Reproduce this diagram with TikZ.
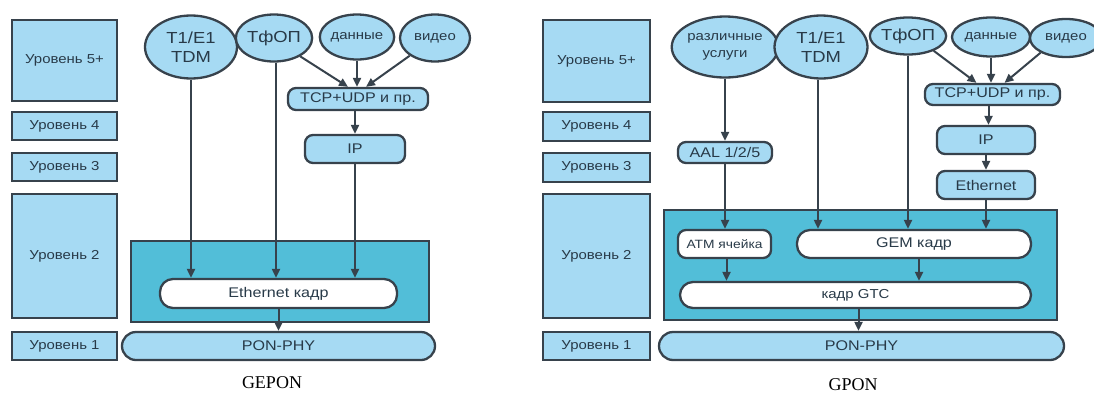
\documentclass[tikz,border=0pt]{standalone}
\usepackage{fontspec}
\usepackage{graphicx}
\setmainfont{Liberation Sans}
\newfontfamily\capfont{Liberation Serif}
\usetikzlibrary{arrows.meta,shapes.geometric}
\definecolor{lblue}{RGB}{166,218,243}
\definecolor{teal2}{RGB}{82,190,216}
\definecolor{edge}{RGB}{55,66,76}
\definecolor{txt}{RGB}{40,58,72}
\newcommand{\hs}[1]{\scalebox{1.15}[1]{#1}}
\tikzset{
  base/.style={draw=edge,line width=2.3pt,text=txt,inner sep=0pt,align=center},
  lvl/.style={base,rectangle,fill=lblue,minimum width=#1,font=\fontsize{13}{15}\selectfont},
  ell/.style={base,ellipse,fill=lblue},
  rbox/.style={base,rectangle,rounded corners=8pt,fill=lblue,font=\fontsize{14}{16}\selectfont},
  wbox/.style={base,rectangle,rounded corners=13pt,fill=white,font=\fontsize{14}{16}\selectfont},
  pill/.style={base,rectangle,rounded corners=14pt,fill=lblue,font=\fontsize{14}{16}\selectfont},
  tealbox/.style={draw=edge,line width=2.3pt,fill=teal2,rectangle,inner sep=0pt},
  conn/.style={draw=edge,line width=2pt},
  arr/.style={conn,-{Triangle[length=9pt,width=8pt]}},
  captext/.style={font=\capfont\fontsize{18}{20}\selectfont,text=black}
}
\begin{document}
\begin{tikzpicture}[x=1pt,y=-1pt]
\useasboundingbox (0,0) rectangle (1094,394);
% ---------------- GEPON ----------------
\node[lvl=105pt,minimum height=81pt] (l5) at (64.5,60.5) {\hs{Уровень 5+}};
\node[lvl=105pt,minimum height=28pt] (l4) at (64.5,126) {\hs{Уровень 4}};
\node[lvl=105pt,minimum height=28pt] (l3) at (64.5,167) {\hs{Уровень 3}};
\node[lvl=105pt,minimum height=124pt] (l2) at (64.5,256) {\hs{Уровень 2}};
\node[lvl=105pt,minimum height=28pt] (l1) at (64.5,346) {\hs{Уровень 1}};

\node[ell,minimum width=92pt,minimum height=63pt,font=\fontsize{16}{19}\selectfont] (t1) at (191,47) {\hs{T1/E1}\\\hs{TDM}};
\node[ell,minimum width=72pt,minimum height=47pt,font=\fontsize{16}{18}\selectfont] (tf) at (274,38) {\hs{ТфОП}};
\node[ell,minimum width=73pt,minimum height=45pt,font=\fontsize{13}{15}\selectfont] (dat) at (357,37) {\hs{данные}};
\node[ell,minimum width=70pt,minimum height=47pt,font=\fontsize{13}{15}\selectfont] (vid) at (435,38) {\hs{видео}};
\node[rbox,minimum width=140pt,minimum height=22pt] (tcp) at (358,99) {\hs{TCP+UDP и пр.}};
\node[rbox,minimum width=100pt,minimum height=28pt] (ip) at (355,149) {\hs{IP}};
\node[tealbox,minimum width=298pt,minimum height=81pt] (teal) at (280,281.5) {};
\node[wbox,minimum width=237pt,minimum height=29pt] (eth) at (278.5,293.5) {\hs{Ethernet кадр}};
\node[pill,minimum width=313pt,minimum height=28pt] (pon) at (278.5,346) {\hs{PON-PHY}};
\node[captext] (capa) at (272,383) {GEPON};

\draw[arr] (t1.south) -- (t1.south |- eth.north);
\draw[arr] ([xshift=2pt]tf.south) -- ([xshift=2pt]tf.south |- eth.north);
\draw[arr] (ip.south) -- (ip.south |- eth.north);
\draw[arr] (dat.south) -- (dat.south |- tcp.north);
\draw[arr] (tf.-35) -- ([xshift=-10pt]tcp.north);
\draw[arr] (vid.-145) -- ([xshift=8pt]tcp.north);
\draw[arr] ([xshift=-3pt]tcp.south) -- ([xshift=-3pt]tcp.south |- ip.north);
\draw[arr] (eth.south) -- (eth.south |- pon.north);

% ---------------- GPON ----------------
\node[lvl=107pt,minimum height=82pt] (r5) at (596.5,61) {\hs{Уровень 5+}};
\node[lvl=107pt,minimum height=29pt] (r4) at (596.5,126.5) {\hs{Уровень 4}};
\node[lvl=107pt,minimum height=29pt] (r3) at (596.5,167.5) {\hs{Уровень 3}};
\node[lvl=107pt,minimum height=124pt] (r2) at (596.5,256) {\hs{Уровень 2}};
\node[lvl=107pt,minimum height=28pt] (r1) at (596.5,346) {\hs{Уровень 1}};

\node[ell,minimum width=94pt,minimum height=61pt,font=\fontsize{13}{17}\selectfont] (rs) at (725,47) {\hs{различные}\\\hs{услуги}};
\node[ell,minimum width=93pt,minimum height=63pt,font=\fontsize{16}{19}\selectfont] (t1r) at (821,47) {\hs{T1/E1}\\\hs{TDM}};
\node[ell,minimum width=70pt,minimum height=37pt,font=\fontsize{16}{18}\selectfont] (tfr) at (908,36) {\hs{ТфОП}};
\node[ell,minimum width=78pt,minimum height=39pt,font=\fontsize{13}{15}\selectfont] (datr) at (991,37) {\hs{данные}};
\node[ell,minimum width=72pt,minimum height=38pt,font=\fontsize{13}{15}\selectfont] (vidr) at (1066,38) {\hs{видео}};
\node[rbox,minimum width=135pt,minimum height=21pt] (tcpr) at (992.5,94.5) {\hs{TCP+UDP и пр.}};
\node[rbox,minimum width=98pt,minimum height=28pt] (ipr) at (986,140) {\hs{IP}};
\node[rbox,minimum width=98pt,minimum height=28pt] (ethr) at (986,185) {\hs{Ethernet}};
\node[rbox,minimum width=94pt,minimum height=21pt] (aal) at (725,152.5) {\hs{AAL 1/2/5}};
\node[tealbox,minimum width=393pt,minimum height=110pt] (tealr) at (860.5,265) {};
\node[wbox,rounded corners=8pt,minimum width=93pt,minimum height=28pt,font=\fontsize{12}{14}\selectfont] (atm) at (724.5,244) {\hs{ATM ячейка}};
\node[wbox,minimum width=234pt,minimum height=28pt] (gem) at (914,244) {\hs{GEM кадр}};
\node[wbox,minimum width=351pt,minimum height=26pt,font=\fontsize{13}{15}\selectfont] (gtc) at (855.5,295) {\hs{кадр GTC}};
\node[pill,minimum width=405pt,minimum height=28pt] (ponr) at (861.5,346) {\hs{PON-PHY}};
\node[captext] (capb) at (853,385) {GPON};

\draw[arr] (rs.south) -- (rs.south |- aal.north);
\draw[arr] (aal.south) -- (aal.south |- atm.north);
\draw[arr] ([xshift=-3pt]t1r.south) -- ([xshift=-3pt]t1r.south |- gem.north);
\draw[arr] (tfr.south) -- (tfr.south |- gem.north);
\draw[arr] (datr.south) -- (datr.south |- tcpr.north);
\draw[arr] (tfr.-30) -- ([xshift=-16pt]tcpr.north);
\draw[arr] (vidr.-150) -- ([xshift=12pt]tcpr.north);
\draw[arr] ([xshift=-4pt]tcpr.south) -- ([xshift=-4pt]tcpr.south |- ipr.north);
\draw[arr] (ipr.south) -- (ipr.south |- ethr.north);
\draw[arr] (ethr.south) -- (ethr.south |- gem.north);
\draw[arr] ([xshift=2pt]atm.south) -- ([xshift=2pt]atm.south |- gtc.north);
\draw[arr] ([xshift=5pt]gem.south) -- ([xshift=5pt]gem.south |- gtc.north);
\draw[arr] ([xshift=3pt]gtc.south) -- ([xshift=3pt]gtc.south |- ponr.north);
\end{tikzpicture}
\end{document}
